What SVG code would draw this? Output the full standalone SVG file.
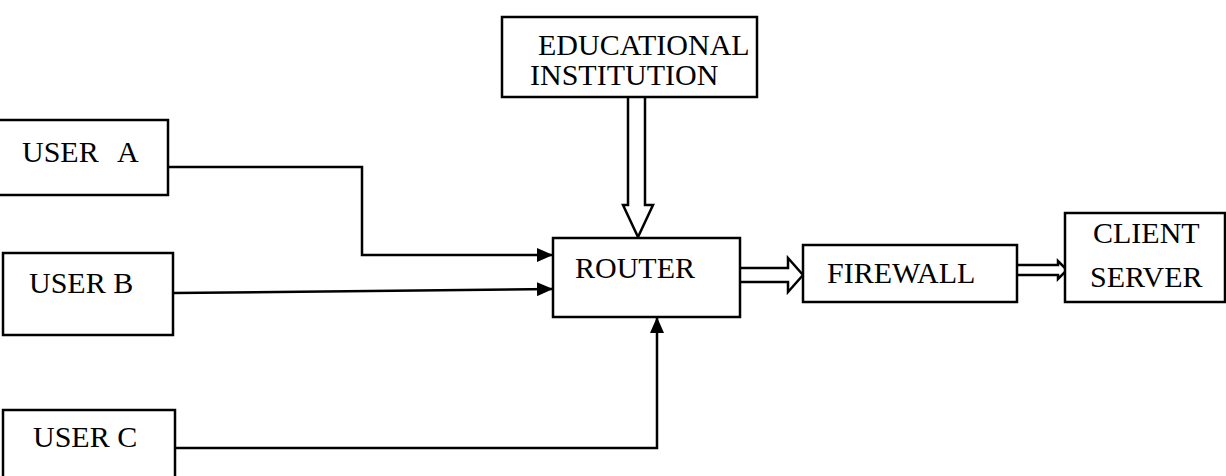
<svg xmlns="http://www.w3.org/2000/svg" width="1226" height="476" viewBox="0 0 1226 476">
<style>
.box{fill:#fff;stroke:#000;stroke-width:2.5}
.t{font-family:"Liberation Serif","DejaVu Serif","Times New Roman",serif;font-size:30px;fill:#000}
.ln{fill:none;stroke:#000;stroke-width:2.5}
.hollow{fill:#fff;stroke:#000;stroke-width:2.5;stroke-linejoin:miter}
</style>
<defs>
<marker id="ah" markerWidth="16" markerHeight="14" refX="16" refY="7" orient="auto" markerUnits="userSpaceOnUse">
<path d="M0,0 L16,7 L0,14 Z" fill="#000"/>
</marker>
</defs>
<rect width="1226" height="476" fill="#fff"/>
<g id="connectors">
<polyline class="ln" points="168,167 362,167 362,255 553,255" marker-end="url(#ah)"/>
<polyline class="ln" points="173,293 553,289" marker-end="url(#ah)"/>
<polyline class="ln" points="175,448 657,448 657,317" marker-end="url(#ah)"/>
<path class="hollow" d="M628,98 L628,205 L623,205 L638,237 L653,205 L645,205 L645,98"/>
<path class="hollow" d="M740,268 L788,268 L788,258 L803,275 L788,292 L788,282 L740,282"/>
<path class="hollow" d="M1017,265 L1058,265 L1058,261 L1067,270 L1058,279 L1058,275 L1017,275"/>
</g>
<g id="edu">
<rect class="box" x="502" y="17" width="255" height="80"/>
<text class="t" x="538" y="55">EDUCATIONAL</text>
<text class="t" x="530" y="85">INSTITUTION</text>
</g>
<g id="userA">
<rect class="box" x="-3" y="120" width="171" height="75"/>
<text class="t" x="22" y="162">USER<tspan x="117">A</tspan></text>
</g>
<g id="userB">
<rect class="box" x="3" y="253" width="170" height="82"/>
<text class="t" x="29" y="293">USER B</text>
</g>
<g id="userC">
<rect class="box" x="3" y="410" width="172" height="80"/>
<text class="t" x="33" y="447">USER C</text>
</g>
<g id="router">
<rect class="box" x="553" y="238" width="187" height="79"/>
<text class="t" x="575" y="278">ROUTER</text>
</g>
<g id="firewall">
<rect class="box" x="803" y="245" width="214" height="57"/>
<text class="t" x="827" y="283">FIREWALL</text>
</g>
<g id="client">
<rect class="box" x="1065" y="213" width="160" height="89"/>
<text class="t" x="1093" y="243">CLIENT</text>
<text class="t" x="1090" y="287">SERVER</text>
</g>
</svg>
